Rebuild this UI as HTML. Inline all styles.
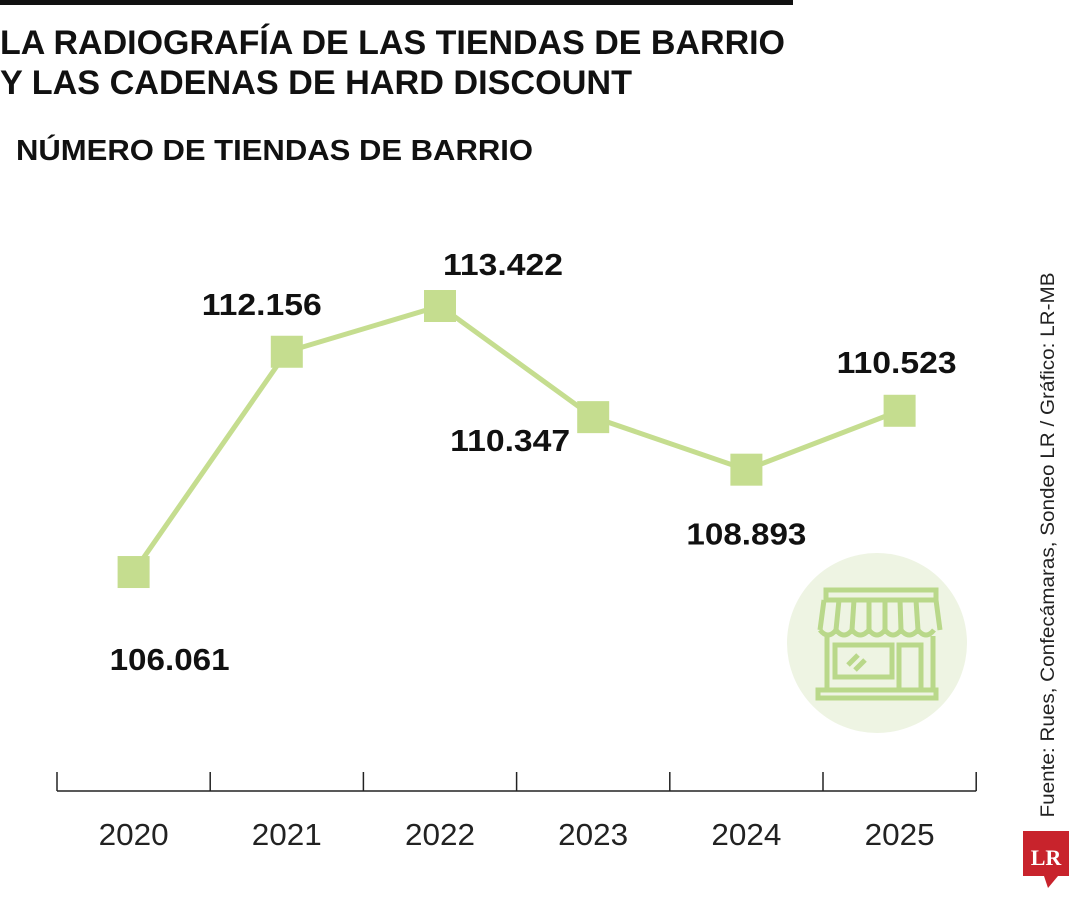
<!DOCTYPE html>
<html><head><meta charset="utf-8"><style>
body{margin:0;width:1080px;height:900px;background:#fff;overflow:hidden;font-family:"Liberation Sans",sans-serif;}
</style></head><body>
<svg width="1080" height="900" viewBox="0 0 1080 900" xmlns="http://www.w3.org/2000/svg">
<rect x="0" y="0" width="793" height="5" fill="#111"/>
<text x="0" y="54" font-size="34" font-weight="bold" fill="#111" font-family="Liberation Sans, sans-serif" textLength="785" lengthAdjust="spacingAndGlyphs">LA RADIOGRAFÍA DE LAS TIENDAS DE BARRIO</text>
<text x="0" y="94" font-size="34" font-weight="bold" fill="#111" font-family="Liberation Sans, sans-serif" textLength="632" lengthAdjust="spacingAndGlyphs">Y LAS CADENAS DE HARD DISCOUNT</text>
<text x="16" y="160" font-size="29" font-weight="bold" fill="#111" font-family="Liberation Sans, sans-serif" textLength="517" lengthAdjust="spacingAndGlyphs">NÚMERO DE TIENDAS DE BARRIO</text>
<g id="axis"></g>
<g id="series"></g>
<circle cx="877" cy="643" r="90" fill="#eef4e3"/>
<g fill="none" stroke="#b9d88a" stroke-width="5">
<rect x="826" y="590" width="110" height="10"/>
<path d="M824 600 L820 630 M936 600 L940 630 M839 600 L836 630 M854 600 L852 630 M869 600 L869 630 M885 600 L885 630 M900 600 L901 630 M916 600 L918 630"/>
<path d="M820 630 q8 10 16 0 q8 10 16 0 q8 10 17 0 q8 10 16 0 q8 10 16 0 q8 10 17 0 q8 10 16 0"/>
<path d="M827 636 L827 690 M933 636 L933 690"/>
<rect x="835" y="645" width="57" height="32"/>
<rect x="899" y="645" width="22" height="45"/>
<path d="M848 665 l10 -10 M855 670 l10 -10"/>
<rect x="818" y="690" width="118" height="8"/>
</g>
<text transform="translate(1054,545) rotate(-90)" text-anchor="middle" font-size="19" fill="#222" font-family="Liberation Sans, sans-serif" textLength="545" lengthAdjust="spacingAndGlyphs">Fuente: Rues, Confecámaras, Sondeo LR / Gráfico: LR-MB</text>
<g>
<rect x="1023" y="831" width="46" height="45" fill="#c8232c"/>
<path d="M1044 876 L1048 888 L1058 876Z" fill="#c8232c"/>
<text x="1046" y="865" text-anchor="middle" font-size="22" font-weight="bold" fill="#fff" font-family="Liberation Serif, serif">LR</text>
</g>
</svg>
<script>
const years=["2020","2021","2022","2023","2024","2025"];
const values=[106.061,112.156,113.422,110.347,108.893,110.523];
const labels=["106.061","112.156","113.422","110.347","108.893","110.523"];
const NS="http://www.w3.org/2000/svg";
const labelDx=[36,-25,63,-83,0,-3];
const labelDy=[98,-37,-31,34,75,-38];
const x0=57,step=153.2;
function xScale(i){return x0+step*(i+0.5);}
function yScale(v){return 306+(113.422-v)*36.14;}
const ax=document.getElementById('axis');
function mk(t,a,p){const e=document.createElementNS(NS,t);for(const k in a)e.setAttribute(k,a[k]);p.appendChild(e);return e;}
let l=mk('line',{x1:x0,x2:x0+step*years.length,y1:791,y2:791,stroke:'#222','stroke-width':1.5},ax);


for(let i=0;i<=years.length;i++){
 const t=mk('line',{x1:x0+step*i,x2:x0+step*i,y1:772,y2:791,stroke:'#222','stroke-width':1.5},ax);
 
 
}
years.forEach((y,i)=>{
 const t=mk('text',{x:xScale(i),y:845,'text-anchor':'middle','font-size':31,fill:'#222',textLength:70,lengthAdjust:'spacingAndGlyphs'},ax);
 t.textContent=y;
 
 
});
const s=document.getElementById('series');
const pl=mk('polyline',{points:values.map((v,i)=>xScale(i)+','+yScale(v)).join(' '),fill:'none',stroke:'#c5dd8f','stroke-width':5},s);


values.forEach((v,i)=>{
 const cx=xScale(i),cy=yScale(v);
 const r=mk('rect',{x:cx-16,y:cy-16,width:32,height:32,fill:'#c5dd8f'},s);
 
 
 const t=mk('text',{x:cx+labelDx[i],y:cy+labelDy[i],'text-anchor':'middle','font-size':31,'font-weight':'bold',fill:'#111',textLength:120,lengthAdjust:'spacingAndGlyphs'},s);
 t.textContent=labels[i];
 
 
});
</script>
</body></html>
